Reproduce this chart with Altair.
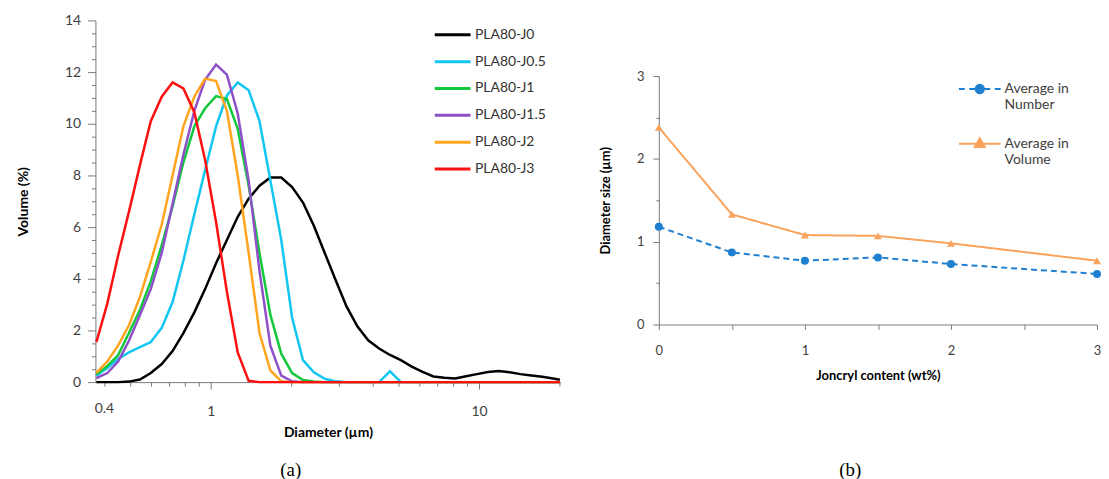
import altair as alt
import pandas as pd

# ---------------- data: panel (a) ----------------
diameter_um = [0.375, 0.412, 0.452, 0.496, 0.545, 0.598, 0.657, 0.721, 0.791, 0.869,
               0.953, 1.047, 1.149, 1.261, 1.385, 1.520, 1.669, 1.832, 2.010, 2.207,
               2.423, 2.660, 2.920, 3.206, 3.519, 3.862, 4.241, 4.656, 5.111, 5.611,
               6.159, 6.761, 7.421, 8.147, 8.944, 9.819, 10.78, 11.83, 12.99, 14.26,
               15.65, 17.18, 18.86, 20.0]

pla80_j0 = [0, 0, 0, 0.02, 0.1, 0.35, 0.7, 1.2, 1.9, 2.7,
            3.6, 4.6, 5.5, 6.4, 7.1, 7.6, 7.92, 7.92, 7.55, 6.95,
            6.05, 5.0, 3.95, 2.93, 2.16, 1.62, 1.3, 1.05, 0.85, 0.6,
            0.4, 0.22, 0.17, 0.14, 0.23, 0.31, 0.39, 0.43, 0.38, 0.31,
            0.26, 0.21, 0.14, 0.09]
pla80_j05 = [0.25, 0.55, 0.9, 1.15, 1.35, 1.55, 2.1, 3.1, 4.7, 6.5,
             8.2, 9.9, 11.1, 11.6, 11.3, 10.1, 7.8, 5.5, 2.5, 0.85,
             0.38, 0.13, 0.03, 0, 0, 0, 0, 0.42, 0, 0,
             0, 0, 0, 0, 0, 0, 0, 0, 0, 0,
             0, 0, 0, 0]
pla80_j1 = [0.3, 0.62, 1.05, 1.9, 2.8, 3.9, 5.3, 6.8, 8.5, 9.9,
            10.6, 11.07, 10.96, 9.8, 7.6, 5.0, 2.6, 1.1, 0.35, 0.08,
            0.02, 0, 0, 0, 0, 0, 0, 0, 0, 0,
            0, 0, 0, 0, 0, 0, 0, 0, 0, 0,
            0, 0, 0, 0]
pla80_j15 = [0.15, 0.35, 0.8, 1.6, 2.6, 3.6, 5.0, 6.9, 8.8, 10.5,
             11.7, 12.29, 11.9, 10.4, 7.8, 4.3, 1.4, 0.25, 0.03, 0,
             0, 0, 0, 0, 0, 0, 0, 0, 0, 0,
             0, 0, 0, 0, 0, 0, 0, 0, 0, 0,
             0, 0, 0, 0]
pla80_j2 = [0.36, 0.8, 1.42, 2.2, 3.3, 4.65, 6.1, 8.0, 9.9, 11.05,
            11.75, 11.65, 10.5, 8.0, 5.0, 1.9, 0.45, 0.03, 0, 0,
            0, 0, 0, 0, 0, 0, 0, 0, 0, 0,
            0, 0, 0, 0, 0, 0, 0, 0, 0, 0,
            0, 0, 0, 0]
pla80_j3 = [1.55, 3.05, 4.9, 6.6, 8.4, 10.1, 11.05, 11.6, 11.37, 10.45,
            8.6, 6.2, 3.5, 1.15, 0.05, 0, 0, 0, 0, 0,
            0, 0, 0, 0, 0, 0, 0, 0, 0, 0,
            0, 0, 0, 0, 0, 0, 0, 0, 0, 0,
            0, 0, 0, 0]

series_names = ["PLA80-J0", "PLA80-J0.5", "PLA80-J1", "PLA80-J1.5", "PLA80-J2", "PLA80-J3"]
series_values = [pla80_j0, pla80_j05, pla80_j1, pla80_j15, pla80_j2, pla80_j3]
series_colors = ["#000000", "#12c6f2", "#14c83c", "#8e50c8", "#ffa51e", "#ff1010"]

x_ticks_a = [0.4, 0.5, 0.6, 0.7, 0.8, 0.9, 1, 2, 3, 4, 5, 6, 7, 8, 9, 10, 20]
y_ticks_a = [i * 0.5 for i in range(29)]

# ---------------- data: panel (b) ----------------
joncryl_wt = [0, 0.5, 1, 1.5, 2, 3]
avg_number = [1.18, 0.87, 0.77, 0.81, 0.73, 0.61]
avg_volume = [2.38, 1.33, 1.08, 1.07, 0.98, 0.77]
avg_names = ["Average in Number", "Average in Volume"]
avg_colors = ["#1f7fd0", "#f9a35c"]
ticks_b = [0, 0.5, 1, 1.5, 2, 2.5, 3]

FONT = "Lato"
AXIS_COLOR = "#7a7a7a"
LABEL_COLOR = "#404040"

rows = []
for name, vals in zip(series_names, series_values):
    for d, v in zip(diameter_um, vals):
        rows.append({"series": name, "diameter": d, "volume": v})
dfa = pd.DataFrame(rows)

rows_b = []
for name, vals in zip(avg_names, [avg_number, avg_volume]):
    for xv, yv in zip(joncryl_wt, vals):
        rows_b.append({"group": name, "joncryl": xv, "size": yv})
dfb = pd.DataFrame(rows_b)

# ---------------- panel (a) ----------------
legend_a = alt.Legend(title=None, orient="none", legendX=340, legendY=-5,
                      symbolType="stroke", symbolStrokeWidth=3, symbolSize=1296,
                      labelFont=FONT, labelFontSize=14, labelColor="#333333",
                      labelOffset=3, rowPadding=0, padding=0)

chart_a = alt.Chart(dfa).mark_line(strokeWidth=2.5).encode(
    x=alt.X("diameter:Q",
            scale=alt.Scale(type="log", domain=[0.372, 20.1], nice=False),
            axis=alt.Axis(title="Diameter (µm)", values=x_ticks_a,
                          labelExpr="datum.value == 0.4 ? '0.4' : datum.value == 1 ? '1' : datum.value == 10 ? '10' : ''",
                          tickSize={"condition": {"test": "datum.value == 1 || datum.value == 10", "value": 7}, "value": 4},
                          labelPadding=16, titlePadding=7, labelFlush=False, labelOverlap=False)),
    y=alt.Y("volume:Q",
            scale=alt.Scale(domain=[0, 14], nice=False),
            axis=alt.Axis(title="Volume (%)", values=y_ticks_a,
                          labelExpr="datum.value % 2 == 0 ? format(datum.value, 'd') : ''",
                          tickSize={"condition": {"test": "datum.value % 2 == 0", "value": 8}, "value": 4},
                          labelPadding=7, titlePadding=34, labelOverlap=False)),
    color=alt.Color("series:N", scale=alt.Scale(domain=series_names, range=series_colors),
                    legend=legend_a),
).properties(
    width=468, height=364,
    title=alt.Title("(a)", orient="bottom", font="Liberation Serif", fontSize=19,
                    fontWeight="normal", color="#000000", offset=21, frame="bounds"),
)

# ---------------- panel (b) ----------------
xb = alt.X("joncryl:Q", scale=alt.Scale(domain=[0, 3], nice=False),
           axis=alt.Axis(title="Joncryl content (wt%)", values=ticks_b,
                         labelExpr="datum.value % 1 == 0 ? format(datum.value, 'd') : ''",
                         tickSize=5, labelPadding=15, titlePadding=12,
                         labelFlush=False, labelOverlap=False, labelFontSize=13,
                         titleFontSize=13))
yb = alt.Y("size:Q", scale=alt.Scale(domain=[0, 3], nice=False),
           axis=alt.Axis(title="Diameter size (µm)", values=ticks_b,
                         labelExpr="datum.value % 1 == 0 ? format(datum.value, 'd') : ''",
                         tickSize={"condition": {"test": "datum.value % 1 == 0", "value": 6}, "value": 3},
                         labelPadding=9, titlePadding=24, labelOverlap=False,
                         labelFontSize=13, titleFontSize=13))

color_b = alt.Color("group:N", scale=alt.Scale(domain=avg_names, range=avg_colors), legend=None)

lines_b = alt.Chart(dfb).mark_line(strokeWidth=2).encode(
    x=xb, y=yb, color=color_b,
    strokeDash=alt.StrokeDash("group:N", scale=alt.Scale(domain=avg_names, range=[[6, 4], [1, 0]]),
                              legend=None),
)
points_b = alt.Chart(dfb).mark_point(filled=True, size=64, opacity=1).encode(
    x=xb, y=yb, color=color_b,
    shape=alt.Shape("group:N", scale=alt.Scale(domain=avg_names, range=["circle", "triangle-up"]),
                    legend=None),
)

path_num = "M-1,0H-0.72M-0.5,0H-0.22M0.22,0H0.5M0.72,0H1M-0.2,0A0.2,0.2 0 1,1 0.2,0A0.2,0.2 0 1,1 -0.2,0Z"
path_vol = "M-1,0H1M0,-0.26L0.24,0.16L-0.24,0.16Z"

legend_b = alt.Legend(title=None, orient="none", legendX=301, legendY=-9,
                      symbolSize=1764, symbolStrokeWidth=2,
                      labelFont=FONT, labelFontSize=14, labelColor=LABEL_COLOR,
                      labelOffset=3, rowPadding=10, padding=0,
                      labelExpr="datum.label == 'Average in Number' ? ['Average in', 'Number'] : ['Average in', 'Volume']")

legend_layer = alt.Chart(dfb).transform_filter("false").mark_point(filled=True, opacity=1, strokeWidth=2).encode(
    x=xb, y=yb,
    fill=alt.Fill("group:N", scale=alt.Scale(domain=avg_names, range=avg_colors), legend=legend_b),
    stroke=alt.Stroke("group:N", scale=alt.Scale(domain=avg_names, range=avg_colors), legend=legend_b),
    shape=alt.Shape("group:N", scale=alt.Scale(domain=avg_names, range=[path_num, path_vol]), legend=legend_b),
)

chart_b = alt.layer(lines_b, points_b, legend_layer).resolve_scale(
    shape="independent", fill="independent", stroke="independent"
).properties(
    width=441, height=250,
    title=alt.Title("(b)", orient="bottom", font="Liberation Serif", fontSize=19,
                    fontWeight="normal", color="#000000", offset=79, frame="bounds"),
)

spacer = alt.Chart(pd.DataFrame({"s": [0]})).mark_text().encode(
    text=alt.value("")
).properties(width=20, height=27)

right_col = alt.vconcat(spacer, chart_b, spacing=20)

chart = alt.hconcat(chart_a, right_col, spacing=34).resolve_scale(
    color="independent", shape="independent", strokeDash="independent",
    fill="independent", stroke="independent"
).properties(
    padding={"left": 8, "top": 4, "right": 0, "bottom": 0}
).configure_view(stroke=None).configure_axis(
    grid=False, domainColor=AXIS_COLOR, tickColor=AXIS_COLOR, domainWidth=1, tickWidth=1,
    labelFont=FONT, labelFontSize=14, labelColor=LABEL_COLOR,
    titleFont=FONT, titleFontSize=14, titleFontWeight="bold", titleColor="#000000",
)

chart.save("out.html", embed_options={"renderer": "svg", "actions": False})
